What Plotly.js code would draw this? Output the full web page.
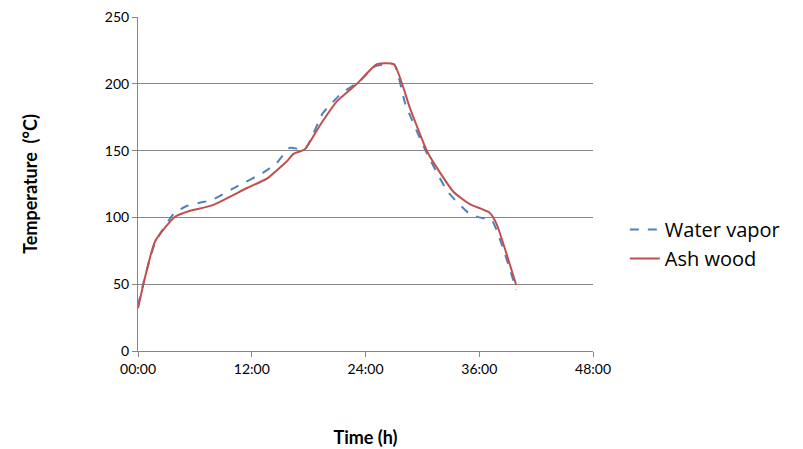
<!DOCTYPE html>
<html><head><meta charset="utf-8">
<script src="https://cdn.plot.ly/plotly-3.0.1.min.js"></script>
<style>body{margin:0}#c{width:803px;height:449px}</style></head>
<body><div id="c"></div>
<script>
const vaporHours=[0,0.56,1.8,3.8,5.2,6.5,7.8,10.4,13.2,14.6,16.0,17.6,19.5,21.5,23.4,25.0,27.0,28.2,30.3,32.7,35.0,36.0,37.3,39.9];
const vaporTemp=[34,50.6,81,103,108.7,111,113,123,133.5,140.5,152,151,178,193,202,213,214.6,185,150.5,119,102.5,100,98,45.6];
const ashHours=[0,1.8,3.9,5.5,7.8,11.5,13.6,15.7,16.4,17.6,19.2,21.0,23.1,25.2,27.0,28.7,30.6,33.3,35.0,37.1,37.8,39.9];
const ashTemp=[32,82,100.5,105,109,122,129,142,147.5,151,169,187,200,214.6,214.6,181.6,148,119,110,103.5,95.5,49.4];
const tickVals=[0,12,24,36,48];
const tickText=["00:00","12:00","24:00","36:00","48:00"];
const f="Lato, 'Open Sans', sans-serif";
Plotly.newPlot('c',[
 {x:vaporHours,y:vaporTemp,name:'Water vapor',mode:'lines',line:{color:'#4f81bd',width:2,dash:'dash',shape:'spline',smoothing:0.5}},
 {x:ashHours,y:ashTemp,name:'Ash wood',mode:'lines',line:{color:'#c0504d',width:2,shape:'spline',smoothing:0.5}}
],{
 width:803,height:449,margin:{l:138,r:210,t:17,b:98},
 paper_bgcolor:'white',plot_bgcolor:'white',
 font:{family:f,size:14,color:'#000'},
 xaxis:{range:[0,48],tickvals:tickVals,ticktext:tickText,showgrid:false,zeroline:false,
  showline:true,linecolor:'#868686',ticks:'outside',ticklen:5,tickcolor:'#868686',
  title:{text:'<b>Time (h)</b>',font:{size:18},standoff:55}},
 yaxis:{range:[0,250],dtick:50,showgrid:true,gridcolor:'#868686',zeroline:false,
  showline:true,linecolor:'#868686',ticks:'outside',ticklen:5,tickcolor:'#868686',
  title:{text:'<b>Temperature  (°C)</b>',font:{size:18},standoff:62}},
 legend:{x:1.07,y:0.32,yanchor:'middle',font:{size:20,family:"'Open Sans', sans-serif"},tracegroupgap:0},
 showlegend:true
},{displayModeBar:false,staticPlot:true});
</script></body></html>
